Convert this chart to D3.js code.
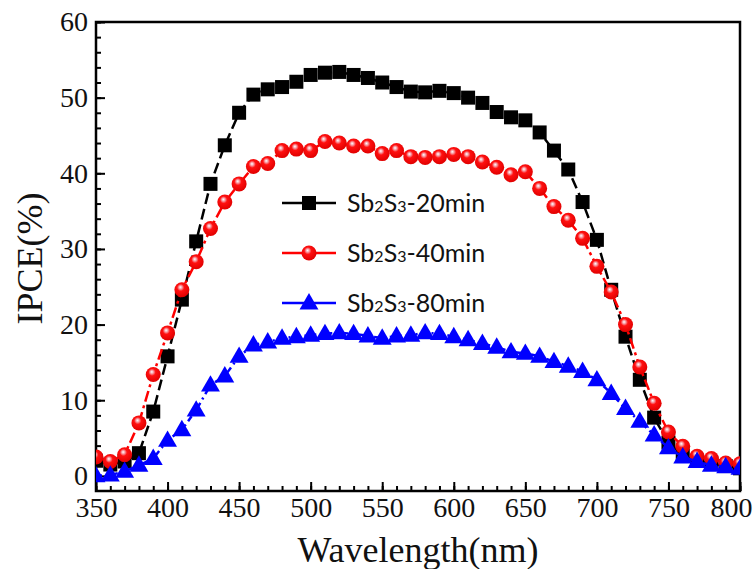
<!DOCTYPE html>
<html>
<head>
<meta charset="utf-8">
<script src="https://cdn.jsdelivr.net/npm/d3@7"></script>
<style>
	body { margin: 0; background: #fff; }
</style>
</head>
<body>
<div id="chart"></div>
<script>
// wavelength (nm) and IPCE (%)
const wavelength = [350, 360, 370, 380, 390, 400, 410, 420, 430, 440,
	450, 460, 470, 480, 490, 500, 510, 520, 530, 540,
	550, 560, 570, 580, 590, 600, 610, 620, 630, 640,
	650, 660, 670, 680, 690, 700, 710, 720, 730, 740,
	750, 760, 770, 780, 790, 800];

const ipce20 = [2.0, 1.5, 1.9, 3.0, 8.5, 15.8, 23.3, 31.0, 38.6, 43.7,
	48.0, 50.4, 51.1, 51.4, 52.1, 53.0, 53.3, 53.4, 53.0, 52.6,
	52.0, 51.4, 50.8, 50.7, 50.9, 50.6, 50.0, 49.3, 48.1, 47.4,
	47.0, 45.4, 43.0, 40.5, 36.2, 31.2, 24.6, 18.4, 12.7, 7.7,
	4.4, 2.7, 2.0, 1.6, 1.3, 1.0];

const ipce40 = [2.5, 1.9, 2.8, 7.0, 13.4, 18.9, 24.6, 28.3, 32.7, 36.2,
	38.6, 40.9, 41.3, 43.0, 43.2, 43.0, 44.2, 44.0, 43.6, 43.6,
	42.6, 43.0, 42.2, 42.1, 42.2, 42.5, 42.2, 41.5, 40.8, 39.8,
	40.2, 38.0, 35.6, 33.8, 31.4, 27.7, 24.3, 20.0, 14.4, 9.6,
	5.8, 3.9, 2.6, 2.3, 1.7, 1.6];

const ipce80 = [0.0, 0.1, 0.6, 1.4, 2.3, 4.7, 6.1, 8.7, 12.0, 13.2,
	15.8, 17.3, 17.7, 18.2, 18.4, 18.6, 18.8, 18.9, 18.8, 18.5,
	18.2, 18.5, 18.6, 18.9, 18.8, 18.4, 18.0, 17.5, 17.0, 16.4,
	16.2, 15.8, 15.1, 14.5, 13.8, 12.7, 10.9, 8.9, 7.2, 5.4,
	3.7, 2.5, 1.9, 1.4, 1.2, 1.0];

const seriesNames = ['20min', '40min', '80min'];
const xTicks = [350, 400, 450, 500, 550, 600, 650, 700, 750, 800];
const yTicks = [0, 10, 20, 30, 40, 50, 60];

const w = 753;
const h = 569;
const m = { top: 22, right: 13, bottom: 78, left: 96 };

const svg = d3.select('#chart').append('svg')
	.attr('width', w)
	.attr('height', h)
	.style('font-family', '"Liberation Serif", "Times New Roman", serif');

const defs = svg.append('defs');

const ball = defs.append('radialGradient')
	.attr('id', 'ball')
	.attr('cx', '45%')
	.attr('cy', '40%')
	.attr('r', '60%')
	.attr('fx', '40%')
	.attr('fy', '32%');
ball.append('stop').attr('offset', '0%').attr('stop-color', '#fff');
ball.append('stop').attr('offset', '18%').attr('stop-color', '#f7a0a8');
ball.append('stop').attr('offset', '40%').attr('stop-color', '#ff1010');
ball.append('stop').attr('offset', '100%').attr('stop-color', '#e00000');

defs.append('clipPath')
	.attr('id', 'plotClip')
	.append('rect')
	.attr('x', m.left)
	.attr('y', m.top)
	.attr('width', w - m.left - m.right)
	.attr('height', h - m.top - m.bottom);

const x = d3.scaleLinear()
	.domain([350, 800])
	.range([m.left, w - m.right]);

const y = d3.scaleLinear()
	.domain([-2, 60])
	.range([h - m.bottom, m.top]);

// minor ticks
svg.append('g')
	.attr('transform', `translate(0,${h - m.bottom})`)
	.call(d3.axisBottom(x).tickValues(d3.range(350, 801, 10)).tickSize(-5).tickFormat(''))
	.call(g => g.select('.domain').remove());

svg.append('g')
	.attr('transform', `translate(${m.left},0)`)
	.call(d3.axisLeft(y).tickValues(d3.range(0, 61, 2)).tickSize(-5).tickFormat(''))
	.call(g => g.select('.domain').remove());

// major ticks + labels
const xAxis = svg.append('g')
	.attr('transform', `translate(0,${h - m.bottom})`)
	.call(d3.axisBottom(x).tickValues(xTicks).tickSize(-9).tickPadding(6).tickFormat(d3.format('d')));
xAxis.select('.domain').remove();
xAxis.selectAll('text')
	.style('font-size', '28px')
	.style('font-family', '"Liberation Serif", serif')
	.attr('fill', '#111');

// the last label sits on the image edge, keep it inside
xAxis.selectAll('.tick text').each(function (d) {
	const len = this.getComputedTextLength();
	const over = x(d) + len / 2 - (w - 1);
	if (over > 0) d3.select(this).attr('dx', -over);
});

const yAxis = svg.append('g')
	.attr('transform', `translate(${m.left},0)`)
	.call(d3.axisLeft(y).tickValues(yTicks).tickSize(-9).tickPadding(8).tickFormat(d3.format('d')));
yAxis.select('.domain').remove();
yAxis.selectAll('text')
	.style('font-size', '28px')
	.style('font-family', '"Liberation Serif", serif')
	.attr('fill', '#111');

svg.selectAll('.tick line')
	.attr('stroke', '#000')
	.attr('stroke-width', 2);

// frame
svg.append('rect')
	.attr('x', m.left)
	.attr('y', m.top)
	.attr('width', w - m.left - m.right)
	.attr('height', h - m.top - m.bottom)
	.attr('fill', 'none')
	.attr('stroke', '#000')
	.attr('stroke-width', 2.5);

// axis titles
svg.append('text')
	.attr('x', (m.left + w - m.right) / 2)
	.attr('y', h - 7)
	.attr('text-anchor', 'middle')
	.style('font-size', '36px')
	.attr('fill', '#111')
	.text('Wavelength(nm)');

svg.append('text')
	.attr('transform', `translate(42,${(m.top + h - m.bottom) / 2 + 2}) rotate(-90)`)
	.attr('text-anchor', 'middle')
	.style('font-size', '36px')
	.attr('fill', '#111')
	.text('IPCE(%)');

const series = [
	{ name: seriesNames[0], values: ipce20, color: '#000', dash: '11,5', shape: 'square' },
	{ name: seriesNames[1], values: ipce40, color: '#ff0000', dash: '11,4,3,4', shape: 'circle' },
	{ name: seriesNames[2], values: ipce80, color: '#0000ff', dash: '6,4,2,4', shape: 'triangle' }
];

const line = d3.line()
	.x(d => x(d[0]))
	.y(d => y(d[1]));

const drawMarker = (sel, shape, color) => {
	if (shape === 'square') {
		sel.append('rect')
			.attr('x', -7)
			.attr('y', -7)
			.attr('width', 14)
			.attr('height', 14)
			.attr('fill', '#000');
	} else if (shape === 'circle') {
		sel.append('circle')
			.attr('r', 7.5)
			.attr('fill', 'url(#ball)');
	} else {
		sel.append('path')
			.attr('d', d3.symbol(d3.symbolTriangle, 155)())
			.attr('transform', 'translate(0,1)')
			.attr('fill', color);
	}
};

const plot = svg.append('g').attr('clip-path', 'url(#plotClip)');

series.forEach(s => {
	const pts = wavelength.map((wl, i) => [wl, s.values[i]]);
	const g = plot.append('g');
	g.append('path')
		.datum(pts)
		.attr('d', line)
		.attr('fill', 'none')
		.attr('stroke', s.color)
		.attr('stroke-width', 2.5)
		.attr('stroke-dasharray', s.dash);
	g.selectAll('.pt')
		.data(pts)
		.join('g')
		.attr('class', 'pt')
		.attr('transform', d => `translate(${x(d[0])},${y(d[1])})`)
		.each(function () { drawMarker(d3.select(this), s.shape, s.color); });
});

// legend
const legend = svg.append('g')
	.style('font-family', 'Lato, "Open Sans", sans-serif');

series.forEach((s, i) => {
	const ly = 203 + i * 50;
	const row = legend.append('g').attr('transform', `translate(0,${ly})`);
	row.append('line')
		.attr('x1', 282)
		.attr('x2', 336)
		.attr('stroke', s.color)
		.attr('stroke-width', 2.5);
	const mk = row.append('g').attr('transform', 'translate(309,0)');
	drawMarker(mk, s.shape, s.color);
	const t = row.append('text')
		.attr('x', 347)
		.attr('y', 9)
		.style('font-size', '25px')
		.attr('fill', '#111');
	t.append('tspan').text('Sb');
	t.append('tspan').style('font-size', '16px').text('2');
	t.append('tspan').text('S');
	t.append('tspan').style('font-size', '16px').text('3');
	t.append('tspan').text('-' + s.name);
});
</script>
</body>
</html>
